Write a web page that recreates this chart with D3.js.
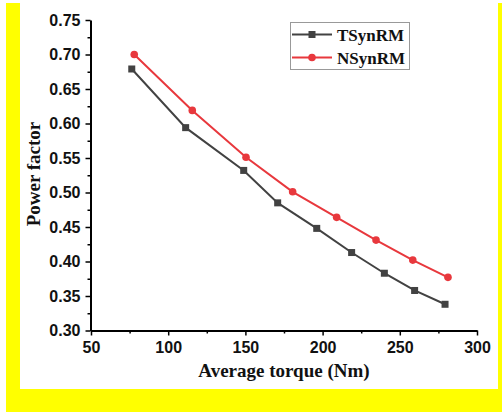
<!DOCTYPE html>
<meta charset="utf-8">
<style>
body { margin: 0; background: #fff; }
svg { display: block; }
.axis path, .axis line { stroke: #000; }
.axis text { font-family: 'Liberation Sans', Arial, sans-serif; font-weight: bold; font-size: 16px; fill: #111; }
.title { font-family: 'Liberation Serif', 'Times New Roman', serif; font-weight: bold; fill: #111; }
</style>
<html>
  <body>
    <svg width="502" height="412"></svg>
  </body>
</html>
<script src="https://d3js.org/d3.v7.min.js"></script>
<script>

var torqueT = [76.4, 111.3, 148.9, 170.9, 196.2, 218.8, 240.0, 259.6, 279.3];
var pfT     = [0.679, 0.594, 0.532, 0.485, 0.448, 0.413, 0.383, 0.358, 0.338];

var torqueN = [78.0, 115.6, 150.4, 180.6, 209.1, 234.6, 258.4, 281.2];
var pfN     = [0.700, 0.619, 0.551, 0.501, 0.464, 0.431, 0.402, 0.377];

var seriesNames = ["TSynRM", "NSynRM"];
var xTicks = [50, 100, 150, 200, 250, 300];
var yTicks = [0.30, 0.35, 0.40, 0.45, 0.50, 0.55, 0.60, 0.65, 0.70, 0.75];

(function() {
  var svg = d3.select("svg");

  // yellow frame, white panel
  svg.append("rect").attr("x", 6).attr("y", 3).attr("width", 496).attr("height", 409).attr("fill", "#ffff00");
  svg.append("rect").attr("x", 20).attr("y", 0).attr("width", 478).attr("height", 389).attr("fill", "#fff");

  var x = d3.scaleLinear().domain([50, 300]).range([91, 477]);
  var y = d3.scaleLinear().domain([0.30, 0.75]).range([330.5, 20]);

  var xMinor = d3.range(75, 300, 50);
  var yMinor = d3.range(0.325, 0.75, 0.05);

  // minor ticks
  svg.append("g")
      .attr("class", "axis")
      .attr("transform", "translate(0,330.5)")
      .call(d3.axisBottom(x).tickValues(xMinor).tickSize(3).tickFormat(""))
      .call(function(g) { g.select(".domain").remove(); g.selectAll("line").attr("stroke-width", 1.5); });

  svg.append("g")
      .attr("class", "axis")
      .attr("transform", "translate(90.5,0)")
      .call(d3.axisLeft(y).tickValues(yMinor).tickSize(3).tickFormat(""))
      .call(function(g) { g.select(".domain").remove(); g.selectAll("line").attr("stroke-width", 1.5); });

  // major axes
  svg.append("g")
      .attr("class", "axis")
      .attr("transform", "translate(0,330.5)")
      .call(d3.axisBottom(x).tickValues(xTicks).tickSize(5).tickSizeOuter(0).tickPadding(6))
      .call(function(g) {
        g.select(".domain").attr("stroke-width", 2);
        g.selectAll("line").attr("stroke-width", 1.5);
      });

  svg.append("g")
      .attr("class", "axis")
      .attr("transform", "translate(90.5,0)")
      .call(d3.axisLeft(y).tickValues(yTicks).tickSize(5).tickSizeOuter(0).tickPadding(5)
        .tickFormat(d3.format(".2f")))
      .call(function(g) {
        g.select(".domain").attr("stroke-width", 2);
        g.selectAll("line").attr("stroke-width", 1.5);
      });

  // lines
  var line = d3.line()
      .x(function(d) { return x(d[0]); })
      .y(function(d) { return y(d[1]); });

  var dataT = d3.zip(torqueT, pfT);
  var dataN = d3.zip(torqueN, pfN);

  var colT = "#424242", colN = "#e8383d";

  svg.append("path").datum(dataT)
      .attr("fill", "none").attr("stroke", colT).attr("stroke-width", 2)
      .attr("d", line);
  svg.append("path").datum(dataN)
      .attr("fill", "none").attr("stroke", colN).attr("stroke-width", 2)
      .attr("d", line);

  svg.append("g").selectAll("rect")
      .data(dataT)
      .enter().append("rect")
        .attr("x", function(d) { return x(d[0]) - 3.5; })
        .attr("y", function(d) { return y(d[1]) - 3.5; })
        .attr("width", 7).attr("height", 7)
        .attr("fill", colT);

  svg.append("g").selectAll("circle")
      .data(dataN)
      .enter().append("circle")
        .attr("cx", function(d) { return x(d[0]); })
        .attr("cy", function(d) { return y(d[1]); })
        .attr("r", 3.8)
        .attr("fill", colN);

  // axis titles
  svg.append("text").attr("class", "title")
      .attr("x", 284).attr("y", 377)
      .attr("text-anchor", "middle")
      .style("font-size", "19px")
      .text("Average torque (Nm)");

  svg.append("text").attr("class", "title")
      .attr("transform", "translate(40,174) rotate(-90)")
      .attr("text-anchor", "middle")
      .style("font-size", "19px")
      .text("Power factor");

  // legend
  var legend = svg.append("g");
  legend.append("rect")
      .attr("x", 290.5).attr("y", 22.5).attr("width", 119).attr("height", 47)
      .attr("fill", "#fff").attr("stroke", "#999").attr("stroke-width", 1);

  var colors = [colT, colN];
  seriesNames.forEach(function(name, i) {
    var ly = 34.5 + i * 23;
    legend.append("line")
        .attr("x1", 292).attr("x2", 332).attr("y1", ly).attr("y2", ly)
        .attr("stroke", colors[i]).attr("stroke-width", 2);
    if (i === 0) {
      legend.append("rect").attr("x", 308.5).attr("y", ly - 3.5).attr("width", 7).attr("height", 7).attr("fill", colors[i]);
    } else {
      legend.append("circle").attr("cx", 312).attr("cy", ly).attr("r", 3.8).attr("fill", colors[i]);
    }
    legend.append("text").attr("class", "title")
        .attr("x", 337).attr("y", ly + 6)
        .style("font-size", "17px")
        .text(name);
  });
})();

</script>
